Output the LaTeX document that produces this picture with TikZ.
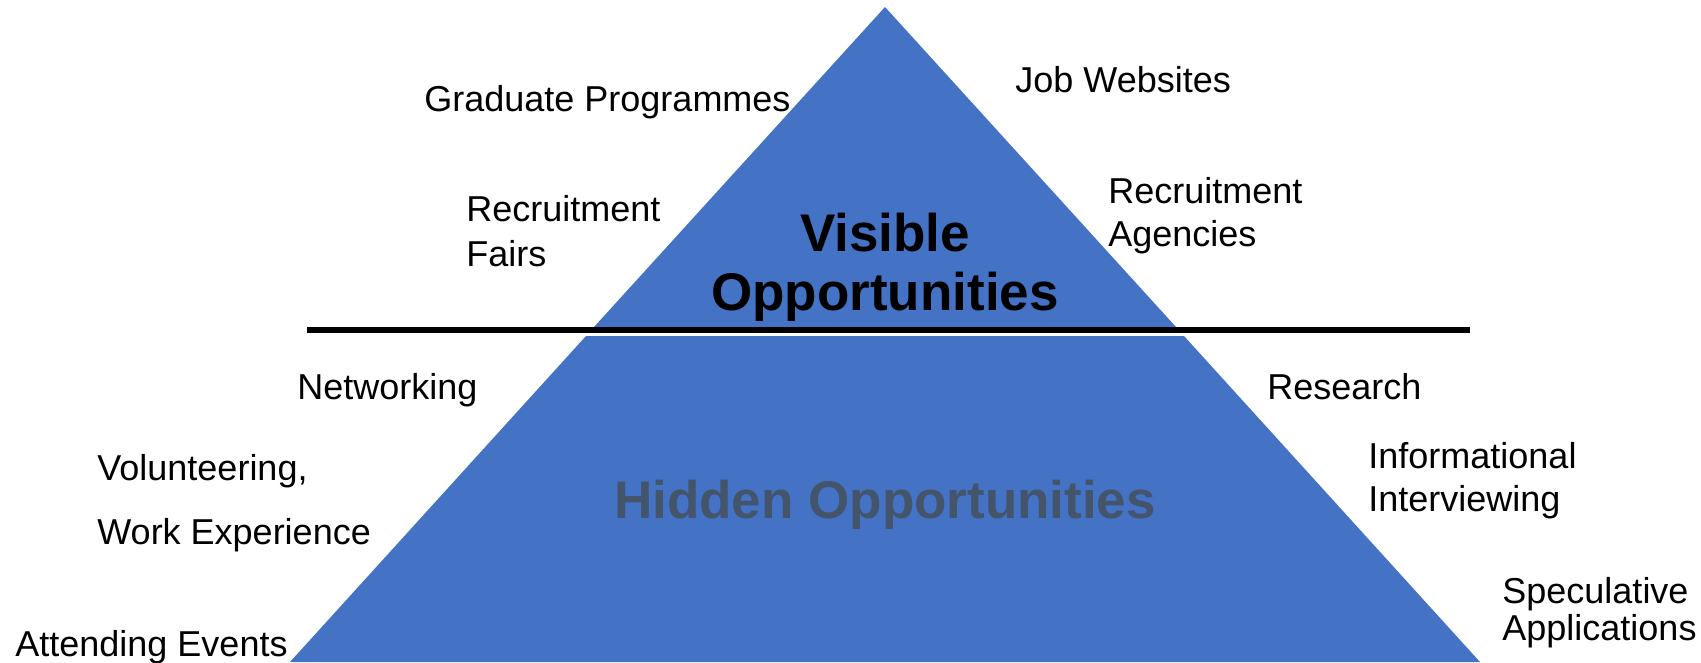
\documentclass[tikz,border=0pt]{standalone}
\usepackage{fontspec}
\setmainfont{Liberation Sans}
\definecolor{pyrblue}{HTML}{4472C4}
\definecolor{hidgray}{HTML}{44546A}
\begin{document}
\begin{tikzpicture}[x=0.5pt,y=-0.5pt,
  lbl/.style={anchor=base west,inner sep=0pt,font=\fontsize{18}{21}\selectfont},
  big/.style={anchor=base,inner sep=0pt,font=\fontsize{26.5}{30}\selectfont\bfseries}]
\useasboundingbox (0,0) rectangle (1701,663);
% pyramid
\fill[pyrblue] (885,7) -- (1176,327) -- (594,327) -- cycle;
\fill[pyrblue] (586,336) -- (1184,336) -- (1480,662) -- (290,662) -- cycle;
% dividing line
\coordinate (lineL) at (307,330);
\coordinate (lineR) at (1470,330);
\draw[line width=3pt] (lineL) -- (lineR);
% central titles
\node[big] (vis1) at (885,251) {Visible};
\node[big] (vis2) at (885,310) {Opportunities};
\node[big,text=hidgray] (hid) at (885,518) {Hidden Opportunities};
% visible labels
\node[lbl] (grad) at (424,112) {Graduate Programmes};
\node[lbl] (job) at (1015,93) {Job Websites};
\node[lbl] (rf1) at (466,221) {Recruitment};
\node[lbl] (rf2) at (466,266) {Fairs};
\node[lbl] (ra1) at (1108,204) {Recruitment};
\node[lbl] (ra2) at (1108,247) {Agencies};
% hidden labels
\node[lbl] (net) at (297,399) {Networking};
\node[lbl] (res) at (1267,399) {Research};
\node[lbl] (vol1) at (97,480) {Volunteering,};
\node[lbl] (vol2) at (97,544) {Work Experience};
\node[lbl] (inf1) at (1368,468) {Informational};
\node[lbl] (inf2) at (1368,511) {Interviewing};
\node[lbl] (att) at (15,656) {Attending Events};
\node[lbl] (spe1) at (1502,603) {Speculative};
\node[lbl] (spe2) at (1502,640) {Applications};
\end{tikzpicture}
\end{document}
